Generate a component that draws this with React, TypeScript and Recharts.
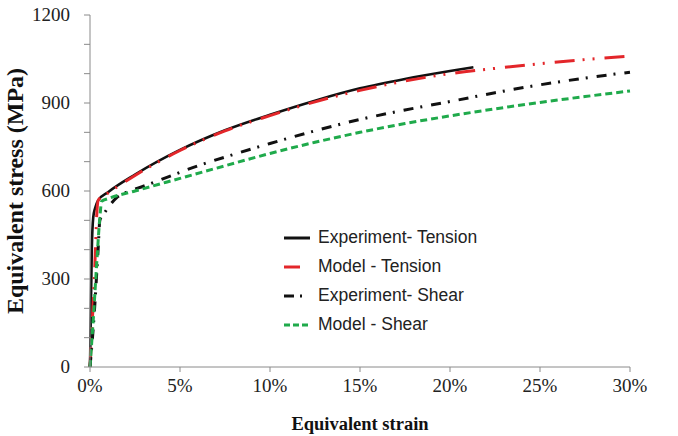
import React from 'react'
import { LineChart, Line, XAxis, YAxis, Label } from 'recharts'

// strain in %, stress in MPa
const expTensionStrain = [0, 0.05, 0.1, 0.18, 0.28, 0.46, 1, 2.5, 5, 7.5, 10, 12.5, 15, 17.5, 20, 21.3]
const expTensionStress = [0, 200, 400, 510, 541, 569, 596, 656, 740, 807, 860, 908, 950, 982, 1009, 1022]

const modelTensionStrain = [0, 0.1, 0.2, 0.28, 0.35, 0.37, 0.46, 1, 2.5, 5, 7.5, 10, 12.5, 15, 17.5, 20, 22.5, 25, 27.5, 30]
const modelTensionStress = [0, 120, 250, 365, 480, 512, 569, 593, 653, 738, 805, 857, 904, 943, 975, 1000, 1018, 1034, 1048, 1060]

const expShearStrain = [0, 0.2, 0.45, 0.55, 0.8, 1, 1.5, 2, 3, 4.5, 6, 8, 10, 12.5, 15, 17.5, 20, 22.5, 25, 27.5, 30]
const expShearStress = [0, 150, 399, 501, 525, 543, 578, 595, 617, 652, 686, 725, 762, 805, 844, 876, 905, 935, 962, 985, 1005]

const modelShearStrain = [0, 0.2, 0.4, 0.55, 0.65, 1, 2.5, 5, 7.5, 10, 12.5, 15, 17.5, 20, 22.5, 25, 27.5, 30]
const modelShearStress = [0, 180, 380, 512, 565, 574, 600, 643, 686, 728, 766, 800, 830, 856, 880, 902, 922, 941]

const xTicks = [0, 5, 10, 15, 20, 25, 30]
const yTicks = [0, 100, 200, 300, 400, 500, 600, 700, 800, 900, 1000, 1100, 1200]

const toPoints = (xs: number[], ys: number[]) => xs.map((x, i) => ({ x, y: ys[i] }))

const series = [
  { name: 'Experiment- Tension', data: toPoints(expTensionStrain, expTensionStress), color: '#111111', dash: undefined, icon: undefined, width: 2.6 },
  { name: 'Model - Tension', data: toPoints(modelTensionStrain, modelTensionStress), color: '#e3262a', dash: '20 8 2 8 2 10', icon: '16 30', width: 3 },
  { name: 'Experiment- Shear', data: toPoints(expShearStrain, expShearStress), color: '#111111', dash: '10 7 2 9', icon: '10 6 2 9', width: 3 },
  { name: 'Model - Shear', data: toPoints(modelShearStrain, modelShearStress), color: '#1faa4b', dash: '7 4', icon: '6 3', width: 3 }
]

const serif = '"Liberation Serif", "Times New Roman", serif'

const XTick = (props: any) => {
  const { x, y, payload } = props
  return (
    <text x={x} y={y + 18} textAnchor="middle" fill="#222" fontSize={19} fontFamily={serif}>
      {`${payload.value}%`}
    </text>
  )
}

const YTick = (props: any) => {
  const { x, y, payload } = props
  if (payload.value % 300 !== 0) return <g />
  return (
    <text x={x - 12} y={y + 6} textAnchor="end" fill="#222" fontSize={19} fontFamily={serif}>
      {payload.value}
    </text>
  )
}

const LegendBox = () => (
  <div
    style={{
      position: 'absolute',
      left: 282,
      top: 223,
      fontFamily: '"Liberation Sans", Arial, sans-serif',
      fontSize: 17.5,
      color: '#222'
    }}
  >
    {series.map((s) => (
      <div key={s.name} style={{ display: 'flex', alignItems: 'center', height: 29 }}>
        <svg width={30} height={10} style={{ marginRight: 6 }}>
          <line x1={2} y1={5} x2={28} y2={5} stroke={s.color} strokeWidth={3} strokeDasharray={s.icon} />
        </svg>
        <span>{s.name}</span>
      </div>
    ))}
  </div>
)

export default function App() {
  return (
    <div style={{ position: 'absolute', left: 0, top: 0, width: 678, height: 436, background: '#fff' }}>
      <LineChart width={678} height={436} margin={{ top: 15, right: 48, bottom: 0, left: 0 }}>
        <XAxis
          dataKey="x"
          type="number"
          domain={[0, 30]}
          ticks={xTicks}
          stroke="#8a8a8a"
          tickSize={5}
          height={69}
          tick={<XTick />}
          allowDuplicatedCategory={false}
        >
          <Label
            value="Equivalent strain"
            position="insideBottom"
            offset={6}
            style={{ fill: '#111', fontSize: 18.5, fontWeight: 'bold', fontFamily: serif }}
          />
        </XAxis>
        <YAxis
          type="number"
          domain={[0, 1200]}
          ticks={yTicks}
          interval={0}
          stroke="#8a8a8a"
          tickSize={6}
          width={90}
          tick={<YTick />}
        >
          <Label
            value="Equivalent stress (MPa)"
            angle={-90}
            position="insideLeft"
            offset={14}
            style={{ textAnchor: 'middle', fill: '#111', fontSize: 24, fontWeight: 'bold', fontFamily: serif }}
          />
        </YAxis>
        {series.map((s) => (
          <Line
            key={s.name}
            data={s.data}
            dataKey="y"
            name={s.name}
            type="monotone"
            stroke={s.color}
            strokeWidth={s.width}
            strokeDasharray={s.dash}
            dot={false}
            isAnimationActive={false}
          />
        ))}
      </LineChart>
      <LegendBox />
    </div>
  )
}
